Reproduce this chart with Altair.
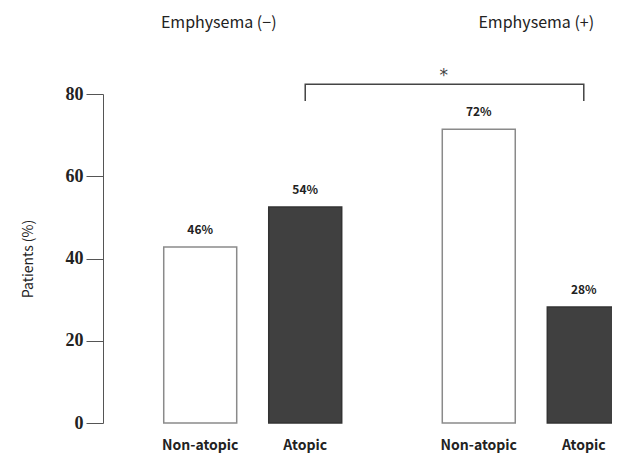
import altair as alt
import pandas as pd

# ---- data ----
groups = ["Emphysema (−)", "Emphysema (−)", "Emphysema (+)", "Emphysema (+)"]
atopy = ["Non-atopic", "Atopic", "Non-atopic", "Atopic"]
patients = [42.8, 52.5, 71.4, 28.2]
pct_labels = ["46%", "54%", "72%", "28%"]

group_order = ["Emphysema (−)", "Emphysema (+)"]
atopy_order = ["Non-atopic", "Atopic"]
y_ticks = [0, 20, 40, 60, 80]

# significance bracket between the two atopic bars
bracket_groups = ["Emphysema (−)", "Emphysema (−)", "Emphysema (+)", "Emphysema (+)"]
bracket_atopy = ["Atopic", "Atopic", "Atopic", "Atopic"]
bracket_levels = [78.3, 82.4, 82.4, 78.3]
bracket_order = [0, 1, 2, 3]

SANS = "Noto Sans CJK JP"

bars_df = pd.DataFrame({"group": groups, "atopy": atopy, "value": patients, "label": pct_labels})
bracket_df = pd.DataFrame({"group": bracket_groups, "atopy": bracket_atopy,
                           "value": bracket_levels, "k": bracket_order})

x_enc = alt.X("group:N", sort=group_order, axis=None,
              scale=alt.Scale(domain=group_order, range=[0, 578],
                              paddingInner=0.361, paddingOuter=0.218))
xo_enc = alt.XOffset("atopy:N", sort=atopy_order,
                     scale=alt.Scale(domain=atopy_order, paddingInner=0.305, paddingOuter=0))
y_scale = alt.Scale(domain=[0, 80], nice=False, zero=True)
y_axis = alt.Axis(values=y_ticks, title="Patients (%)", grid=False,
                  tickSize=17, tickColor="#555", domainColor="#555",
                  labelFont="Liberation Serif", labelFontWeight="bold",
                  labelFontSize=18, labelColor="#222", labelPadding=3,
                  titleFont=SANS, titleFontSize=14, titleFontWeight="normal",
                  titleColor="#222", titlePadding=30)


def y_at(v):
    return alt.YDatum(v, type="quantitative", scale=y_scale, axis=y_axis)


base = alt.Chart(bars_df)

bars = base.mark_bar(strokeWidth=1.5).encode(
    x=x_enc,
    xOffset=xo_enc,
    y=alt.Y("value:Q", scale=y_scale, axis=y_axis),
    fill=alt.Fill("atopy:N", scale=alt.Scale(domain=atopy_order, range=["#ffffff", "#404040"]), legend=None),
    stroke=alt.Stroke("atopy:N", scale=alt.Scale(domain=atopy_order, range=["#8a8a8a", "#333333"]), legend=None),
)

values = base.mark_text(font=SANS, fontSize=12, fontWeight="bold", baseline="middle",
                        dy=-17, color="#222").encode(
    x=x_enc, xOffset=xo_enc, y=alt.Y("value:Q", scale=y_scale, axis=y_axis), text="label:N")

xlabels = base.mark_text(font=SANS, fontSize=14, fontWeight="bold", baseline="middle",
                         dy=23, color="#222").encode(
    x=x_enc, xOffset=xo_enc, y=y_at(0), text="atopy:N")

hdr1 = base.transform_filter(alt.datum.group == group_order[0]).transform_aggregate(
    n="count()", groupby=["group"]).mark_text(
    font=SANS, fontSize=16, baseline="middle", dy=-71, dx=-34, color="#222").encode(
    x=x_enc, y=y_at(80), text="group:N")
hdr2 = base.transform_filter(alt.datum.group == group_order[1]).transform_aggregate(
    n="count()", groupby=["group"]).mark_text(
    font=SANS, fontSize=16, baseline="middle", dy=-71, dx=5, color="#222").encode(
    x=x_enc, y=y_at(80), text="group:N")

bracket = alt.Chart(bracket_df).mark_line(color="#444", strokeWidth=1.5).encode(
    x=x_enc, xOffset=xo_enc, y=alt.Y("value:Q", scale=y_scale, axis=y_axis), order="k:Q")

star = base.transform_filter(
    (alt.datum.group == group_order[1]) & (alt.datum.atopy == atopy_order[0])
).mark_text(font="DejaVu Sans", fontSize=17, baseline="middle", dy=-18, dx=-35, color="#444").encode(
    x=x_enc, xOffset=xo_enc, y=y_at(80), text=alt.value("*"))

chart = alt.layer(bars, values, xlabels, hdr1, hdr2, bracket, star).properties(
    width=509, height=329,
    autosize=alt.AutoSizeParams(type="none"),
    padding={"left": 95, "top": 86, "right": 0, "bottom": 30},
    background="white",
).configure_view(stroke=None, strokeWidth=0).configure_axis(grid=False)

chart.save("out.html", embed_options={"renderer": "svg", "actions": False})
